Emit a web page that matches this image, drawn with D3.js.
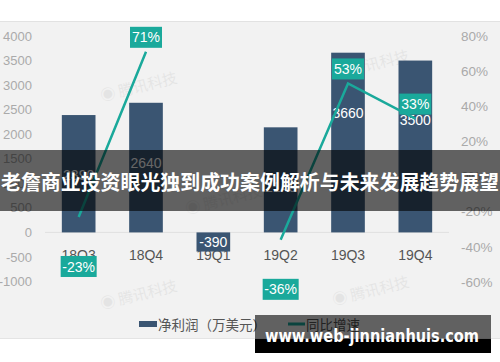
<!DOCTYPE html>
<html>

<head>
    <meta charset="utf-8">
    <script src="https://d3js.org/d3.v7.min.js"></script>
    <style>
        body { margin: 0; background: #fff; }
        svg { display: block; }
    </style>
</head>

<body>
    <script>
        const w = 500
        const h = 362
        const categories = ["18Q3", "18Q4", "19Q1", "19Q2", "19Q3", "19Q4"]
        const profit = [2390, 2640, -390, 2140, 3660, 3500]
        const growth = [-23, 71, null, -36, 53, 33]
        const leftTicks = [4000, 3500, 3000, 2500, 2000, 1500, 1000, 500, 0, -500, -1000]
        const rightTicks = [80, 60, 40, 20, 0, -20, -40, -60]
        const legendNames = ["净利润（万美元）", "同比增速"]
        const title = "老詹商业投资眼光独到成功案例解析与未来发展趋势展望"
        const siteText = "www.web-jinnianhuis.com"

        const barColor = "#3a5572"
        const teal = "#1aa99b"
        const numFont = "Liberation Sans, Arial, sans-serif"
        const cjkFont = "Noto Sans CJK SC, sans-serif"

        const svg = d3.select("body").append("svg")
            .attr("width", w)
            .attr("height", h)

        // chart panel background
        svg.append("rect").attr("x", 0).attr("y", 21).attr("width", w).attr("height", 318).attr("fill", "#f2f2f2")
        svg.append("line").attr("x1", 0).attr("x2", w).attr("y1", 21.5).attr("y2", 21.5).attr("stroke", "#e2e2e2")
        svg.append("line").attr("x1", 0).attr("x2", w).attr("y1", 338.5).attr("y2", 338.5).attr("stroke", "#e4e4e4")

        const x = d3.scaleBand().domain(categories).range([45, 449]).paddingInner(0.5).paddingOuter(0.25)
        const yL = d3.scaleLinear().domain([-1000, 4000]).range([281.5, 36])
        const yR = d3.scaleLinear().domain([-60, 80]).range([282, 36])

        // faint watermarks
        const marks = [[140, 92], [140, 300], [372, 296], [372, 70], [225, 205]]
        svg.selectAll(".wm").data(marks).enter().append("text")
            .attr("class", "wm")
            .attr("transform", d => `translate(${d[0]},${d[1]}) rotate(-14)`)
            .attr("text-anchor", "middle")
            .attr("font-family", cjkFont)
            .attr("font-size", 15)
            .attr("fill", "#000")
            .attr("opacity", 0.05)
            .text("◉ 腾讯科技")

        // zero line
        svg.append("line")
            .attr("x1", 45).attr("x2", 449)
            .attr("y1", yL(0)).attr("y2", yL(0))
            .attr("stroke", "#e0e0e0")

        // left axis labels
        svg.selectAll(".ltick").data(leftTicks).enter().append("text")
            .attr("x", 32)
            .attr("y", d => yL(d))
            .attr("dy", "0.35em")
            .attr("text-anchor", "end")
            .attr("font-family", numFont)
            .attr("font-size", 13)
            .attr("fill", "#aaa")
            .text(d => d)

        // right axis labels
        svg.selectAll(".rtick").data(rightTicks).enter().append("text")
            .attr("x", 461)
            .attr("y", d => yR(d))
            .attr("dy", "0.35em")
            .attr("font-family", numFont)
            .attr("font-size", 13.5)
            .attr("fill", "#aaa")
            .text(d => d + "%")

        // category labels
        svg.selectAll(".xtick").data(categories).enter().append("text")
            .attr("x", d => x(d) + x.bandwidth() / 2)
            .attr("y", 255)
            .attr("dy", "0.35em")
            .attr("text-anchor", "middle")
            .attr("font-family", numFont)
            .attr("font-size", 14)
            .attr("fill", "#555")
            .text(d => d)

        const rows = categories.map((c, i) => ({ c, p: profit[i], g: growth[i] }))

        // bars
        svg.selectAll(".bar").data(rows).enter().append("rect")
            .attr("x", d => x(d.c))
            .attr("width", x.bandwidth())
            .attr("y", d => yL(Math.max(0, d.p)))
            .attr("height", d => Math.abs(yL(d.p) - yL(0)))
            .attr("fill", barColor)

        svg.selectAll(".barlbl").data(rows).enter().append("text")
            .attr("x", d => x(d.c) + x.bandwidth() / 2)
            .attr("y", d => d.p < 0 ? (yL(0) + yL(d.p)) / 2 : yL(d.p) + 60)
            .attr("dy", "0.35em")
            .attr("text-anchor", "middle")
            .attr("font-family", numFont)
            .attr("font-size", 14)
            .attr("fill", "#fff")
            .text(d => d.p)

        // growth line (no value for 19Q1)
        const line = d3.line()
            .defined(d => d.g !== null)
            .x(d => x(d.c) + x.bandwidth() / 2)
            .y(d => yR(d.g))
        svg.append("path")
            .datum(rows)
            .attr("d", line)
            .attr("fill", "none")
            .attr("stroke", teal)
            .attr("stroke-width", 2.5)

        // growth labels
        const bw = 32, bh = 21
        const gl = svg.selectAll(".glbl").data(rows.filter(d => d.g !== null)).enter().append("g")
            .attr("transform", d => {
                const cx = x(d.c) + x.bandwidth() / 2
                const top = d.g >= 0 ? yR(d.g) - 4 - bh : yR(d.g) + 39
                return `translate(${cx},${top})`
            })
        gl.append("rect")
            .attr("x", d => d.g < 0 ? -bw / 2 - 2 : -bw / 2)
            .attr("width", d => d.g < 0 ? bw + 4 : bw)
            .attr("height", bh)
            .attr("fill", teal)
        gl.append("text")
            .attr("y", bh / 2)
            .attr("dy", "0.36em")
            .attr("text-anchor", "middle")
            .attr("font-family", numFont)
            .attr("font-size", 14)
            .attr("fill", "#fff")
            .text(d => d.g + "%")

        // legend
        svg.append("rect").attr("x", 139).attr("y", 321).attr("width", 18).attr("height", 6).attr("fill", barColor)
        svg.append("text").attr("x", 158).attr("y", 329.5)
            .attr("font-family", cjkFont).attr("font-size", 13.5).attr("fill", "#555")
            .text(legendNames[0])
        svg.append("line").attr("x1", 288).attr("x2", 305).attr("y1", 324).attr("y2", 324)
            .attr("stroke", teal).attr("stroke-width", 3)
        svg.append("text").attr("x", 306).attr("y", 329.5)
            .attr("font-family", cjkFont).attr("font-size", 13.5).attr("fill", "#555")
            .text(legendNames[1])

        // title banner
        svg.append("rect").attr("x", 0).attr("y", 150).attr("width", w).attr("height", 61)
            .attr("fill", "rgba(0,0,0,0.6)")
        svg.append("text")
            .attr("x", 1).attr("y", 183)
            .attr("dy", "0.35em")
            .attr("textLength", 498)
            .attr("lengthAdjust", "spacingAndGlyphs")
            .attr("font-family", cjkFont)
            .attr("font-weight", 700)
            .attr("font-size", 20.5)
            .attr("fill", "#fff")
            .text(title)

        // site stamp
        svg.append("rect").attr("x", 255).attr("y", 315).attr("width", 236).attr("height", 24)
            .attr("fill", "rgba(0,0,0,0.6)")
        svg.append("rect").attr("x", 255).attr("y", 339).attr("width", 236).attr("height", 14)
            .attr("fill", "#000")
        svg.append("text")
            .attr("x", 265).attr("y", 342)
            .attr("textLength", 214)
            .attr("lengthAdjust", "spacingAndGlyphs")
            .attr("font-family", "DejaVu Sans, sans-serif")
            .attr("font-weight", 700)
            .attr("font-size", 17)
            .attr("fill", "#fff")
            .text(siteText)
    </script>
</body>

</html>
